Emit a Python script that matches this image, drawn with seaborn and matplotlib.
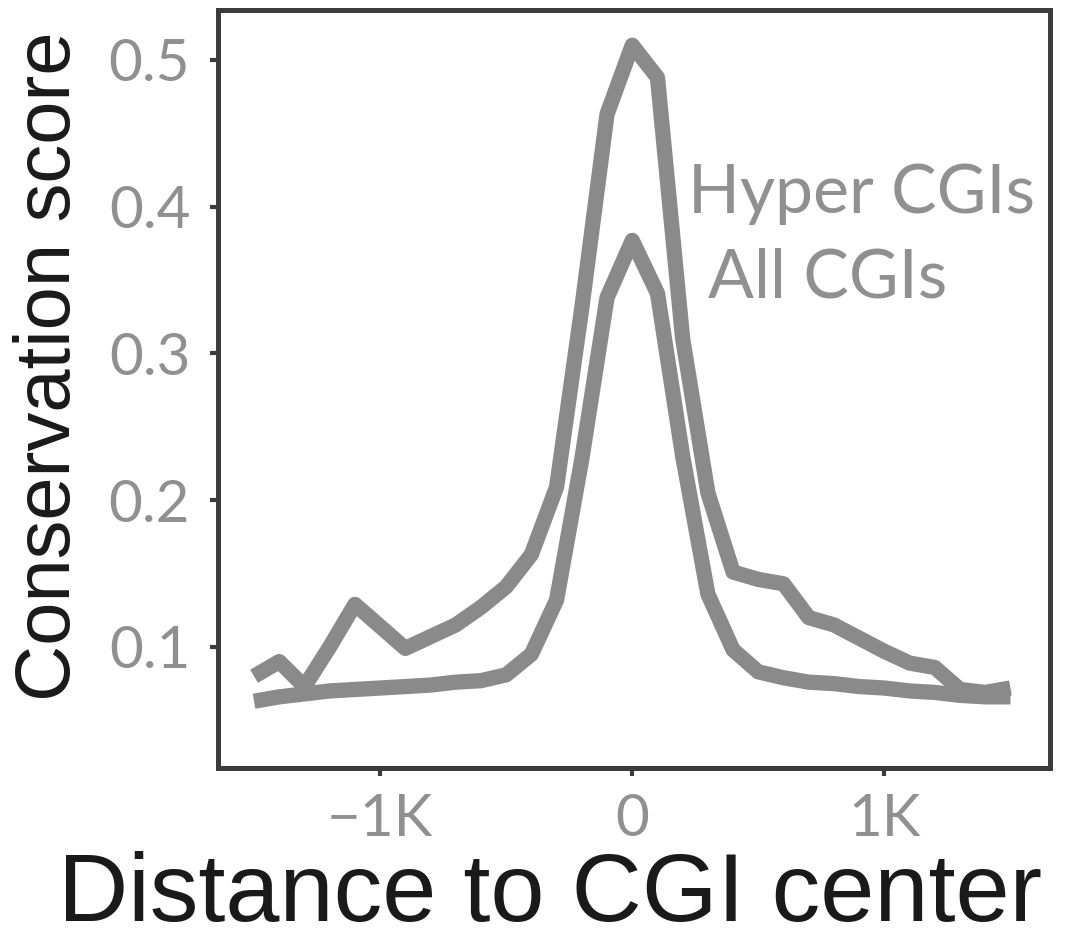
import matplotlib
matplotlib.use("Agg")
import matplotlib.pyplot as plt
import seaborn as sns
import pandas as pd

# ---- data ----
distance = [-1500, -1400, -1300, -1200, -1100, -1000, -900, -800, -700, -600,
            -500, -400, -300, -200, -100, 0, 100, 200, 300, 400,
            500, 600, 700, 800, 900, 1000, 1100, 1200, 1300, 1400, 1500]
hyper_cgis = [0.080, 0.090, 0.073, 0.100, 0.129, 0.114, 0.099, 0.107, 0.115, 0.127,
              0.141, 0.163, 0.209, 0.331, 0.463, 0.510, 0.488, 0.310, 0.205, 0.151,
              0.146, 0.143, 0.120, 0.115, 0.106, 0.097, 0.089, 0.086, 0.071, 0.069, 0.072]
all_cgis = [0.063, 0.066, 0.068, 0.070, 0.071, 0.072, 0.073, 0.074, 0.076, 0.077,
            0.081, 0.095, 0.132, 0.228, 0.338, 0.377, 0.341, 0.230, 0.136, 0.098,
            0.083, 0.079, 0.076, 0.075, 0.073, 0.072, 0.070, 0.069, 0.067, 0.066, 0.066]
series_names = ["Hyper CGIs", "All CGIs"]
x_ticks = [-1000, 0, 1000]
x_ticklabels = ["\u22121K", "0", "1K"]
y_ticks = [0.1, 0.2, 0.3, 0.4, 0.5]
y_ticklabels = ["0.1", "0.2", "0.3", "0.4", "0.5"]

df = pd.DataFrame({
    "distance": distance * 2,
    "score": hyper_cgis + all_cgis,
    "set": [series_names[0]] * len(distance) + [series_names[1]] * len(distance),
})

sns.set_theme(style="white")
plt.rcParams["font.family"] = ["Liberation Sans", "DejaVu Sans"]

fig = plt.figure(figsize=(10.85, 9.44), dpi=100)
ax = fig.add_axes([218 / 1085, 1 - 768 / 944, (1050 - 218) / 1085, (768 - 10) / 944])

line_grey = "#8a8a8a"
sns.lineplot(data=df, x="distance", y="score", hue="set",
             palette={series_names[0]: line_grey, series_names[1]: line_grey},
             linewidth=11, legend=False, ax=ax, sort=False)
for ln in ax.lines:
    ln.set_solid_capstyle("butt")
    ln.set_solid_joinstyle("round")

ax.set_xlim(-1643, 1657)
ax.set_ylim(0.0175, 0.534)

ax.set_xticks(x_ticks)
ax.set_xticklabels(x_ticklabels)
ax.set_yticks(y_ticks)
ax.set_yticklabels(y_ticklabels)

frame_col = "#3c3c3c"
for sp in ax.spines.values():
    sp.set_visible(True)
    sp.set_color(frame_col)
    sp.set_linewidth(3.6)

tick_grey = "#909090"
ax.tick_params(axis="both", which="major", direction="out", length=6, width=3,
               color=frame_col, labelcolor=tick_grey, labelsize=42, pad=14,
               left=True, bottom=True)
for lab in ax.get_xticklabels() + ax.get_yticklabels():
    lab.set_family(["Lato", "DejaVu Sans"])
    lab.set_fontweight("normal")
ax.tick_params(axis="x", pad=12)

ax.set_xlabel("Distance to CGI center", fontsize=70, color="#1a1a1a")
ax.xaxis.label.set_verticalalignment("baseline")
ax.xaxis.set_label_coords((550 - 218) / 832, (768 - 921) / 758)
ax.set_ylabel("Conservation score", fontsize=56, color="#1a1a1a")
ax.yaxis.set_label_coords((86 - 218) / 832, 0.53)

ax.text(222, 0.396, series_names[0], fontsize=49, color=tick_grey,
        family=["Lato", "DejaVu Sans"], fontweight="normal", ha="left", va="baseline")
ax.text(302, 0.338, series_names[1], fontsize=49, color=tick_grey,
        family=["Lato", "DejaVu Sans"], fontweight="normal", ha="left", va="baseline")

fig.savefig("out.png", dpi=100, facecolor="white")
